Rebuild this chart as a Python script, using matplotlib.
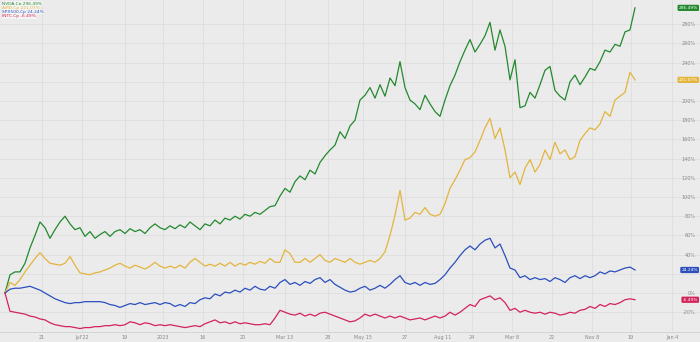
import matplotlib
matplotlib.use("agg")
import matplotlib.pyplot as plt

# weekly % change vs. first week
green = [0, 19, 22, 22, 31, 47, 60, 74, 68, 57,
         66, 74, 80, 72, 66, 68, 59, 64, 57, 61,
         64, 59, 64, 66, 62, 67, 64, 66, 62, 68,
         72, 68, 66, 70, 67, 71, 68, 74, 70, 66,
         72, 70, 76, 72, 78, 76, 80, 77, 82, 80,
         84, 82, 86, 90, 91, 101, 109, 105, 116, 122,
         118, 128, 124, 136, 143, 149, 154, 168, 161, 174,
         180, 201, 206, 214, 203, 217, 205, 224, 216, 241,
         214, 201, 197, 191, 206, 197, 189, 184, 201, 216,
         227, 241, 253, 264, 251, 259, 268, 282, 253, 274,
         257, 222, 243, 193, 195, 209, 203, 217, 232, 236,
         211, 205, 201, 220, 227, 217, 225, 234, 232, 241,
         253, 251, 259, 257, 272, 274, 297]
yellow = [0, 11, 8, 14, 22, 29, 36, 42, 36, 31,
          30, 29, 31, 38, 29, 21, 20, 19, 21, 22,
          24, 26, 29, 31, 28, 26, 29, 27, 25, 28,
          32, 28, 26, 28, 26, 29, 26, 32, 36, 32,
          28, 30, 28, 31, 28, 32, 28, 31, 29, 32,
          30, 33, 31, 36, 32, 32, 45, 41, 32, 32,
          36, 32, 36, 40, 34, 32, 36, 34, 32, 36,
          32, 30, 32, 34, 32, 36, 43, 60, 81, 107,
          76, 78, 84, 82, 89, 82, 80, 82, 93, 109,
          118, 128, 139, 141, 147, 159, 172, 182, 161, 172,
          149, 120, 126, 113, 130, 139, 126, 134, 149, 139,
          157, 145, 149, 139, 142, 159, 166, 172, 170, 176,
          189, 184, 201, 205, 209, 230, 222]
blue = [0, 4, 5, 5, 6, 7, 5, 3, 0, -3,
        -6, -8, -10, -11, -10, -10, -9, -9, -9, -9,
        -10, -12, -13, -15, -13, -11, -12, -10, -12, -11,
        -10, -12, -10, -11, -14, -12, -14, -10, -11, -7,
        -5, -6, -1, -3, 1, 0, 3, 1, 5, 3,
        7, 4, 3, 7, 5, 11, 14, 9, 11, 8,
        12, 10, 14, 16, 11, 14, 9, 6, 3, 1,
        2, 5, 7, 3, 5, 8, 5, 9, 14, 18,
        11, 9, 11, 8, 11, 9, 10, 14, 19, 26,
        32, 39, 45, 49, 45, 51, 55, 57, 47, 51,
        39, 26, 24, 16, 18, 14, 16, 14, 15, 12,
        16, 14, 11, 16, 18, 15, 18, 16, 18, 22,
        20, 23, 22, 24, 26, 27, 24]
red = [0, -19, -20, -21, -22, -24, -25, -27, -28, -31,
       -33, -34, -35, -35, -36, -37, -36, -36, -35, -35,
       -34, -34, -33, -34, -33, -30, -31, -33, -31, -32,
       -34, -33, -34, -33, -34, -35, -36, -35, -34, -35,
       -32, -30, -28, -31, -30, -32, -30, -32, -31, -32,
       -33, -33, -32, -33, -26, -18, -20, -22, -23, -21,
       -24, -22, -24, -21, -20, -22, -24, -26, -28, -30,
       -29, -26, -22, -24, -22, -24, -26, -24, -26, -24,
       -26, -28, -27, -26, -28, -26, -24, -26, -24, -20,
       -23, -20, -16, -12, -14, -7, -5, -3, -7, -5,
       -10, -18, -16, -20, -18, -20, -21, -20, -22, -20,
       -21, -23, -22, -20, -21, -18, -17, -14, -16, -12,
       -14, -11, -12, -10, -7, -6, -7]

names = ["NVDA.Cp 296.49%", "AMD.Cp 221.07%", "SPX500.Cp 24.24%", "INTC.Cp -6.49%"]
end_labels = ["296.49%", "221.07%", "24.24%", "-6.49%"]
colors = ["#23892e", "#e3b53d", "#2b4fbd", "#d3235a"]

xtick_pos = [7.4, 15.4, 24, 31.6, 39.6, 47.6, 56, 64.6, 71.6, 80, 87.6, 93.4, 101.4, 109.4, 117.4, 125.2, 133.4]
xtick_lab = ["21", "Jul'22", "19", "2023", "16", "20", "Mar 13", "28", "May 15", "27",
             "Aug 11", "24", "Mar 8", "22", "Nov 8", "19", "Jan 4"]
ytick_pos = list(range(-20, 300, 20))

bg = "#ebebeb"
fig = plt.figure(figsize=(7, 3.42), dpi=100, facecolor=bg)
ax = fig.add_axes([0, 10/342, 1, 332/342])
ax.set_facecolor(bg)

series = [green, yellow, blue, red]
for s, c in zip(series, colors):
	ax.plot(range(len(s)), s, color=c, lw=0.9, zorder=3)

ax.set_xlim(-1, 139)
ax.set_ylim(-40.6, 305.2)

# scale labels hidden behind a last-value tag are left blank, as in the reference
last_vals = [s[-1] for s in series]
ylabs = []
for v in ytick_pos:
	if any(abs(v - lv) < 5 for lv in last_vals):
		ylabs.append("")
	else:
		ylabs.append(f"{v}%")

ax.set_xticks(xtick_pos)
ax.set_xticklabels(xtick_lab)
ax.set_yticks(ytick_pos)
ax.set_yticklabels(ylabs)
ax.yaxis.tick_right()
ax.tick_params(axis="y", length=0, pad=-3, labelsize=3.5, labelcolor="#888888")
ax.tick_params(axis="x", length=0, pad=2, labelsize=3.5, labelcolor="#888888")
for lab in ax.get_yticklabels():
	lab.set_horizontalalignment("right")
ax.grid(color="#dedede", lw=0.6, zorder=0)
for sp in ax.spines.values():
	sp.set_visible(False)
ax.spines["bottom"].set_visible(True)
ax.spines["bottom"].set_color("#d0d0d0")
ax.spines["bottom"].set_linewidth(0.6)

# legend at top left
for i, (n, c) in enumerate(zip(names, colors)):
	ax.text(0.003, 0.995 - i*0.0125, n, transform=ax.transAxes, fontsize=3.2, color=c,
		va="top", ha="left", zorder=5,
		bbox=dict(boxstyle="square,pad=0.1", fc="#f4f4f4", ec="none"))

# last value tags on the scale
for s, c, lab in zip(series, colors, end_labels):
	ax.text(0.997, s[-1], lab, transform=ax.get_yaxis_transform(), fontsize=3.2,
		color="white", va="center", ha="right", zorder=6,
		bbox=dict(boxstyle="round,pad=0.25", fc=c, ec="none"))

fig.savefig("out.png", dpi=100, facecolor=bg)
